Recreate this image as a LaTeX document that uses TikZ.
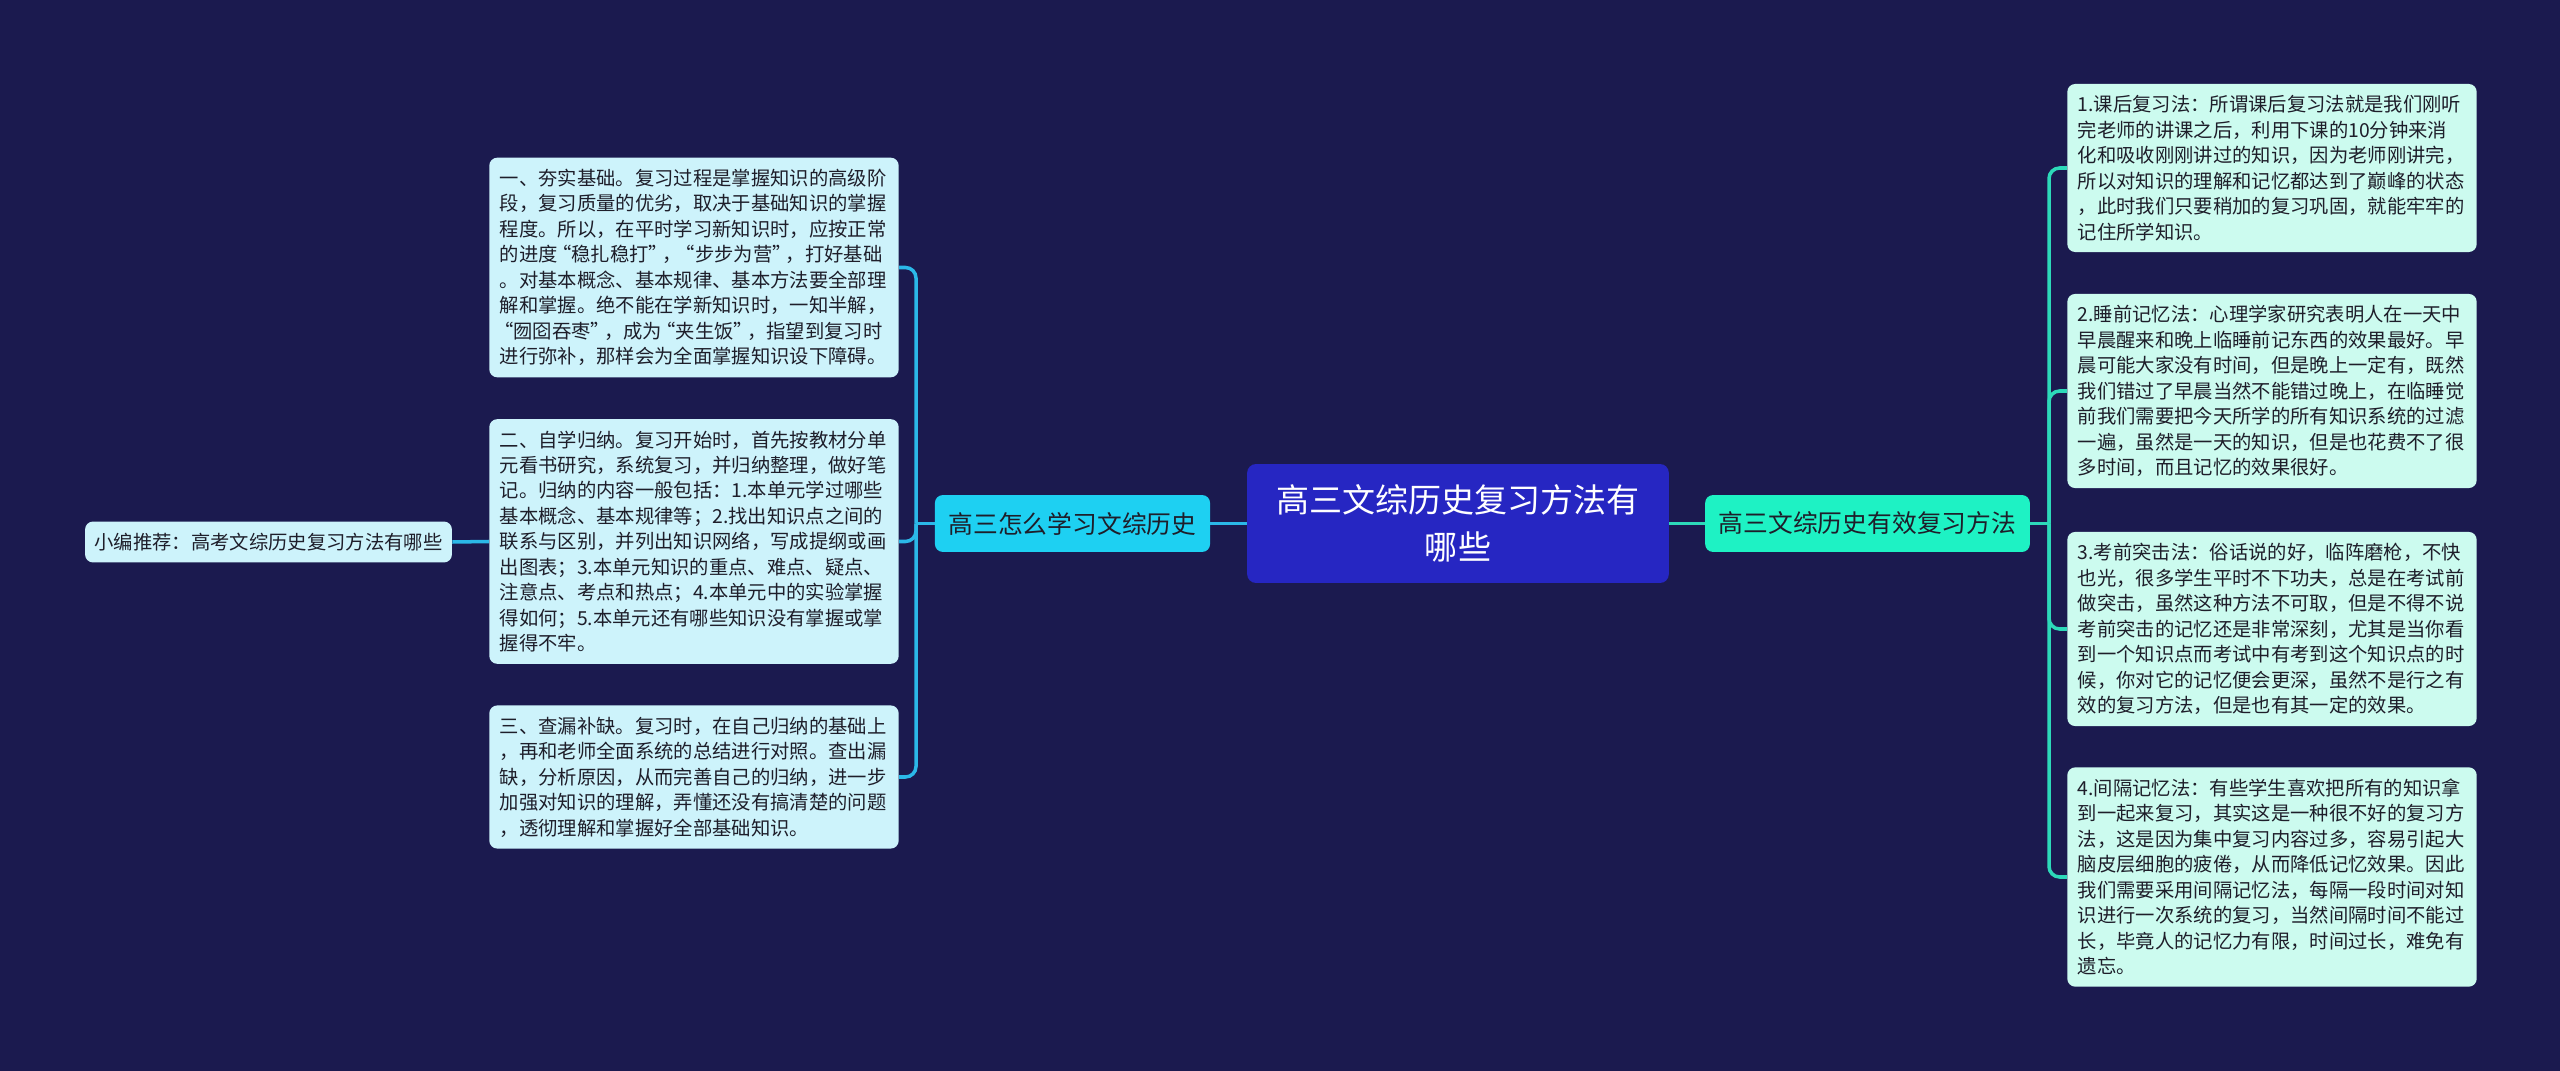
\documentclass[tikz,border=0pt]{standalone}
\usepackage{fontspec}
\setmainfont{Noto Sans CJK SC}
\usepackage{tikz}
\definecolor{bgnavy}{HTML}{1B1A4F}
\definecolor{rootblue}{HTML}{2626C2}
\definecolor{branchcyan}{HTML}{1ED0F2}
\definecolor{branchmint}{HTML}{1EF2C4}
\definecolor{leafcyan}{HTML}{CDF3FB}
\definecolor{leafmint}{HTML}{CCFBEF}
\definecolor{linecyan}{HTML}{2BB8E8}
\definecolor{linemint}{HTML}{2DD9B9}
\definecolor{inkdark}{HTML}{1E1E2A}
\newcommand\qtopen{\makebox[0.7em][r]{“}}
\newcommand\qtclose{\makebox[0.7em][l]{”}}

\begin{document}
\begin{tikzpicture}[x=0.02cm,y=-0.02cm,
  leaf/.style={rounded corners=4.5pt,text=inkdark,align=left,text width=221pt,
    inner xsep=6pt,inner ysep=6.5pt,font=\fontsize{11}{14.5}\selectfont},
  leftleaf/.style={leaf,fill=leafcyan},
  rightleaf/.style={leaf,fill=leafmint},
  branch/.style={rounded corners=4.5pt,text=inkdark,inner xsep=7.8pt,
    minimum height=32.4pt,font=\fontsize{14.1}{17}\selectfont},
  cyanline/.style={draw=linecyan,line width=2pt},
  mintline/.style={draw=linemint,line width=2pt}]
  % background
  \useasboundingbox (0,0) rectangle (2560,1071);
  \fill[bgnavy] (0,0) rectangle (2560,1071);

  % root and main branches
  \node[fill=rootblue,rounded corners=5pt,text=white,align=center,
    minimum width=240pt,minimum height=67.7pt,
    font=\fontsize{18.8}{26.7}\selectfont] (root) at (1458,523.5)
    {高三文综历史复习方法有\\哪些};
  \node[branch,fill=branchcyan] (lb) at (1072.5,523.5) {高三怎么学习文综历史};
  \node[branch,fill=branchmint] (rb) at (1867.5,523.5) {高三文综历史有效复习方法};

  % left side
  \node[leftleaf] (l1) at (694,267.5)
    {一、夯实基础。复习过程是掌握知识的高级阶\\
     段，复习质量的优劣，取决于基础知识的掌握\\
     程度。所以，在平时学习新知识时，应按正常\\
     的进度\qtopen 稳扎稳打\qtclose ，\qtopen 步步为营\qtclose ，打好基础\\
     。对基本概念、基本规律、基本方法要全部理\\
     解和掌握。绝不能在学新知识时，一知半解，\\
     \qtopen 囫囵吞枣\qtclose ，成为\qtopen 夹生饭\qtclose ，指望到复习时\\
     进行弥补，那样会为全面掌握知识设下障碍。};
  \node[leftleaf] (l2) at (694,541.5)
    {二、自学归纳。复习开始时，首先按教材分单\\
     元看书研究，系统复习，并归纳整理，做好笔\\
     记。归纳的内容一般包括：1.本单元学过哪些\\
     基本概念、基本规律等；2.找出知识点之间的\\
     联系与区别，并列出知识网络，写成提纲或画\\
     出图表；3.本单元知识的重点、难点、疑点、\\
     注意点、考点和热点；4.本单元中的实验掌握\\
     得如何；5.本单元还有哪些知识没有掌握或掌\\
     握得不牢。};
  \node[leftleaf] (l3) at (694,777)
    {三、查漏补缺。复习时，在自己归纳的基础上\\
     ，再和老师全面系统的总结进行对照。查出漏\\
     缺，分析原因，从而完善自己的归纳，进一步\\
     加强对知识的理解，弄懂还没有搞清楚的问题\\
     ，透彻理解和掌握好全部基础知识。};
  \node[fill=leafcyan,rounded corners=4.5pt,text=inkdark,inner xsep=5.4pt,
    minimum height=23.3pt,font=\fontsize{11}{14.5}\selectfont] (xb) at (268.5,542)
    {小编推荐：高考文综历史复习方法有哪些};

  % right side
  \node[rightleaf] (r1) at (2272,168)
    {1.课后复习法：所谓课后复习法就是我们刚听\\
     完老师的讲课之后，利用下课的10分钟来消\\
     化和吸收刚刚讲过的知识，因为老师刚讲完，\\
     所以对知识的理解和记忆都达到了巅峰的状态\\
     ，此时我们只要稍加的复习巩固，就能牢牢的\\
     记住所学知识。};
  \node[rightleaf] (r2) at (2272,391)
    {2.睡前记忆法：心理学家研究表明人在一天中\\
     早晨醒来和晚上临睡前记东西的效果最好。早\\
     晨可能大家没有时间，但是晚上一定有，既然\\
     我们错过了早晨当然不能错过晚上，在临睡觉\\
     前我们需要把今天所学的所有知识系统的过滤\\
     一遍，虽然是一天的知识，但是也花费不了很\\
     多时间，而且记忆的效果很好。};
  \node[rightleaf] (r3) at (2272,629)
    {3.考前突击法：俗话说的好，临阵磨枪，不快\\
     也光，很多学生平时不下功夫，总是在考试前\\
     做突击，虽然这种方法不可取，但是不得不说\\
     考前突击的记忆还是非常深刻，尤其是当你看\\
     到一个知识点而考试中有考到这个知识点的时\\
     候，你对它的记忆便会更深，虽然不是行之有\\
     效的复习方法，但是也有其一定的效果。};
  \node[rightleaf] (r4) at (2272,877)
    {4.间隔记忆法：有些学生喜欢把所有的知识拿\\
     到一起来复习，其实这是一种很不好的复习方\\
     法，这是因为集中复习内容过多，容易引起大\\
     脑皮层细胞的疲倦，从而降低记忆效果。因此\\
     我们需要采用间隔记忆法，每隔一段时间对知\\
     识进行一次系统的复习，当然间隔时间不能过\\
     长，毕竟人的记忆力有限，时间过长，难免有\\
     遗忘。};

  % connectors
  \coordinate (lj) at (916,523.5);
  \coordinate (rj) at (2049,523.5);
  \draw[cyanline] (root.west) -- (lb.east);
  \draw[cyanline] (lb.west) -- (lj);
  \foreach \n in {l1,l2,l3}
    \draw[cyanline,rounded corners=6pt] (lj) |- (\n.east);
  \draw[cyanline] (xb.east) -- (l2.west);
  \draw[mintline] (root.east) -- (rb.west);
  \draw[mintline] (rb.east) -- (rj);
  \foreach \n in {r1,r2,r3,r4}
    \draw[mintline,rounded corners=6pt] (rj) |- (\n.west);
\end{tikzpicture}
\end{document}
